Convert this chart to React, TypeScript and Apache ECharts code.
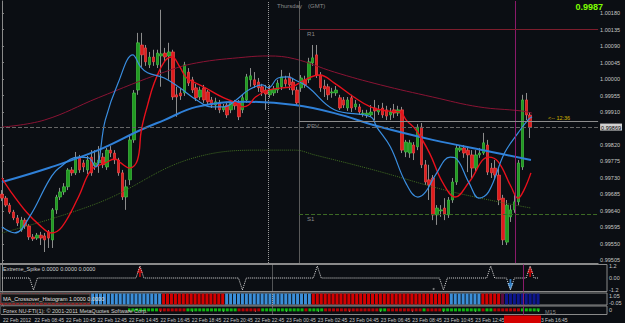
import React, { useEffect, useRef } from "react";
import * as echarts from "echarts";

const BG = "#0b0e13";
const N_CAT = 154;

// [open, close, low, high]
const ohlc: number[][] = [
  [0.99686, 0.99675, 0.99667, 0.99697], [0.99675, 0.99656, 0.99651, 0.99681], [0.99656, 0.99637, 0.99632, 0.99662],
  [0.99637, 0.99621, 0.99615, 0.99643], [0.99621, 0.99607, 0.99599, 0.99629], [0.99588, 0.99615, 0.99583, 0.99624],
  [0.99615, 0.99599, 0.99591, 0.99621], [0.99599, 0.99569, 0.99561, 0.99604], [0.99569, 0.99564, 0.99558, 0.99577],
  [0.99566, 0.99574, 0.99561, 0.9958], [0.99574, 0.99566, 0.99547, 0.99583], [0.99572, 0.99561, 0.99528, 0.9958],
  [0.99583, 0.99566, 0.99539, 0.99588], [0.99561, 0.99643, 0.99539, 0.99648], [0.99643, 0.99678, 0.99632, 0.99684],
  [0.99678, 0.99692, 0.9967, 0.99703], [0.99692, 0.99706, 0.99684, 0.99716], [0.99706, 0.99752, 0.99697, 0.99757],
  [0.99752, 0.99744, 0.99736, 0.9976], [0.99744, 0.99785, 0.99738, 0.99801], [0.99785, 0.99752, 0.99744, 0.99793],
  [0.99771, 0.9976, 0.99746, 0.99779], [0.99752, 0.99779, 0.99741, 0.9979], [0.99787, 0.99744, 0.99736, 0.99806],
  [0.99763, 0.99771, 0.99752, 0.99806], [0.99771, 0.99779, 0.99744, 0.99817], [0.99787, 0.99766, 0.99757, 0.99798],
  [0.9976, 0.99806, 0.99752, 0.99812], [0.99806, 0.99798, 0.99787, 0.99817], [0.99798, 0.99779, 0.99768, 0.99806],
  [0.99779, 0.99744, 0.99736, 0.99785], [0.99744, 0.99678, 0.9967, 0.99752], [0.99678, 0.99706, 0.99643, 0.99725],
  [0.99725, 0.99834, 0.99711, 0.99847], [0.99834, 0.99962, 0.99826, 0.9997], [0.9997, 1.00099, 0.99957, 1.00126],
  [1.00093, 1.00066, 1.00033, 1.00126], [1.00085, 1.00047, 1.00036, 1.00093], [1.00039, 1.0006, 1.0003, 1.00074],
  [1.0006, 1.00047, 1.00036, 1.0008], [1.00039, 1.00071, 1.0003, 1.0008], [1.00063, 1.00069, 0.99979, 1.00189],
  [1.00071, 1.0006, 1.00047, 1.00085], [1.00063, 1.00074, 0.99998, 1.00099], [1.00074, 0.99951, 0.99943, 1.0008],
  [0.99957, 0.99951, 0.99897, 0.99979], [0.99962, 0.99954, 0.99943, 0.99976], [0.99962, 1.00039, 0.99954, 1.00047],
  [1.00019, 0.99989, 0.99981, 1.0003], [0.99998, 0.9997, 0.99962, 1.00006], [0.99976, 0.99949, 0.9994, 0.99987],
  [0.99951, 0.9997, 0.99943, 0.99979], [0.99976, 0.99943, 0.99935, 0.99984], [0.99965, 0.99938, 0.99929, 0.9997],
  [0.99943, 0.99929, 0.99921, 0.99951], [0.99929, 0.99938, 0.99916, 0.99949], [0.99935, 0.99916, 0.99907, 0.99943],
  [0.99916, 0.99924, 0.9991, 0.99932], [0.99929, 0.99902, 0.99894, 0.99938], [0.99916, 0.99935, 0.99907, 0.99943],
  [0.99935, 0.99927, 0.99916, 0.99943], [0.99935, 0.99897, 0.99888, 0.99943], [0.99916, 0.99949, 0.99907, 0.99957],
  [0.99943, 1.00006, 0.99935, 1.00014], [0.99998, 1.00009, 0.99979, 1.0003], [0.99998, 0.99984, 0.99976, 1.00019],
  [0.99992, 0.99976, 0.99965, 1.00003], [0.99979, 0.99965, 0.99954, 0.99987], [0.9997, 0.99959, 0.99916, 0.99984],
  [0.99957, 0.9997, 0.99949, 0.99984], [0.99962, 0.99973, 0.99954, 0.99981], [0.9997, 0.99989, 0.99962, 0.99998],
  [0.99979, 1.00006, 0.9997, 1.00025], [0.99998, 0.99987, 0.99979, 1.00009], [1.00006, 0.99984, 0.9997, 1.00017],
  [0.99992, 0.9997, 0.99957, 1.00003], [0.9997, 0.99935, 0.99927, 0.99979], [0.99976, 1.00003, 0.99965, 1.00011],
  [0.99998, 0.99984, 0.99976, 1.00009], [0.99998, 1.00047, 0.99989, 1.00058], [1.00044, 1.00058, 1.00036, 1.00093],
  [1.00066, 1.00011, 1.00003, 1.00093], [1.00011, 0.99976, 0.99965, 1.00019], [0.99981, 0.99973, 0.99951, 0.99998],
  [0.99979, 0.99957, 0.99943, 0.99987], [0.99962, 0.99965, 0.99949, 0.99976], [0.99962, 0.9997, 0.99954, 0.99981],
  [0.99949, 0.99921, 0.99916, 0.99957], [0.99943, 0.99929, 0.99921, 0.99951], [0.99921, 0.99943, 0.99913, 0.99951],
  [0.99949, 0.99921, 0.9991, 0.99957], [0.99924, 0.99932, 0.99916, 0.99943], [0.99924, 0.9991, 0.99902, 0.99932],
  [0.99905, 0.99907, 0.99897, 0.99916], [0.99902, 0.99907, 0.99894, 0.99916], [0.99902, 0.9991, 0.99897, 0.99929],
  [0.99921, 0.99913, 0.99888, 0.99943], [0.9991, 0.99916, 0.99902, 0.99929], [0.99921, 0.99902, 0.99894, 0.99935],
  [0.99916, 0.99899, 0.99888, 0.99927], [0.99902, 0.9991, 0.99888, 0.99921], [0.99916, 0.99907, 0.99894, 0.99932],
  [0.99907, 0.99916, 0.99899, 0.99927], [0.99916, 0.99806, 0.99798, 0.99924], [0.99801, 0.99828, 0.99787, 0.99834],
  [0.99798, 0.99826, 0.99785, 0.99834], [0.9982, 0.99798, 0.99779, 0.99828], [0.99815, 0.99869, 0.99806, 0.99877],
  [0.99869, 0.99766, 0.99757, 0.9988], [0.99766, 0.99719, 0.99711, 0.99779], [0.99725, 0.99711, 0.9967, 0.99766],
  [0.9973, 0.99629, 0.99615, 0.99738], [0.99629, 0.99648, 0.99602, 0.99656], [0.9964, 0.99643, 0.99624, 0.99656],
  [0.99648, 0.99632, 0.99615, 0.99675], [0.99629, 0.9967, 0.99621, 0.99678], [0.9967, 0.99719, 0.99662, 0.9973],
  [0.99719, 0.99812, 0.99711, 0.9982], [0.99806, 0.99812, 0.99801, 0.9982], [0.99812, 0.99798, 0.99785, 0.9982],
  [0.99806, 0.99793, 0.99746, 0.99815], [0.99793, 0.99757, 0.9973, 0.99806], [0.99757, 0.99793, 0.99746, 0.99806],
  [0.99793, 0.99798, 0.99785, 0.99812], [0.99798, 0.99826, 0.99793, 0.99853], [0.9982, 0.99746, 0.99738, 0.99834],
  [0.99757, 0.99744, 0.9973, 0.99771], [0.99757, 0.99738, 0.99725, 0.99779], [0.99738, 0.9967, 0.99656, 0.99757],
  [0.99675, 0.99561, 0.99547, 0.99684], [0.99555, 0.99656, 0.99547, 0.9967], [0.99624, 0.99643, 0.9961, 0.99656],
  [0.99643, 0.99665, 0.99635, 0.99684], [0.99665, 0.99771, 0.99656, 0.99779], [0.9976, 0.99943, 0.99752, 0.99957],
  [0.99943, 0.99902, 0.99888, 0.99962], [0.99902, 0.99869, 0.99839, 0.9991],
];

// moving averages read at sampled bars: [bar, price]
const maMaroon = [[0, 0.99869], [10.9, 0.99888], [24.8, 0.99949], [41.8, 1.00019], [50.1, 1.00044], [62.8, 1.0006], [68.6, 1.00063], [75.4, 1.00055], [85.6, 1.00019], [97.5, 0.99984], [110.9, 0.99951], [122.8, 0.99924], [133.7, 0.99913], [136.5, 0.99907]];
const maSlowBlue = [[0, 0.99719], [12.2, 0.99758], [24.8, 0.99806], [35.7, 0.99861], [41.8, 0.99888], [50.1, 0.99924], [62.8, 0.99938], [75.4, 0.99929], [85.6, 0.99907], [97.5, 0.99869], [110.9, 0.99834], [126.1, 0.99801], [136.2, 0.99779]];
const maFastBlue = [[0, 0.99596], [3.3, 0.9958], [7.1, 0.99624], [12.2, 0.99725], [14.7, 0.99757], [19.7, 0.99787], [22.3, 0.99785], [24.1, 0.9976], [26.6, 0.99888], [29.9, 0.99989], [33.7, 1.00066], [35.7, 1.00033], [37.5, 1.00017], [41.8, 1.00003], [45.8, 0.99976], [50.1, 0.99943], [53.9, 0.99924], [57.0, 0.99924], [60.3, 0.99943], [63.5, 0.9997], [67.1, 0.99984], [68.6, 0.99976], [71.1, 1.00003], [73.7, 1.00006], [75.4, 0.99998], [78.7, 0.99979], [85.6, 0.99916], [94.9, 0.99897], [96.5, 0.99869], [100, 0.99815], [104, 0.99716], [107.1, 0.99678], [109.1, 0.99692], [111.6, 0.99738], [115.4, 0.99787], [116.7, 0.99785], [120.3, 0.99716], [122.8, 0.99675], [125.3, 0.99692], [129.4, 0.99798], [132.9, 0.99853], [135.4, 0.99888], [136.5, 0.99897]];
const maRed = [[0, 0.9973], [2.0, 0.99697], [6.3, 0.99637], [9.6, 0.99602], [12.7, 0.9958], [15.4, 0.99596], [19.7, 0.99678], [23.0, 0.99752], [26.6, 0.99771], [29.1, 0.99782], [30.6, 0.99771], [32.9, 0.99757], [34.9, 0.99779], [35.9, 0.99861], [37.5, 0.99929], [39.2, 0.99989], [41.8, 1.00047], [43.8, 1.0006], [45.8, 1.00033], [47.6, 1.00003], [51.9, 0.99979], [57.0, 0.99949], [60.3, 0.99935], [62.0, 0.99924], [63.5, 0.99929], [65.3, 0.99951], [68.6, 0.9997], [72.2, 0.99976], [74.7, 0.99979], [78.0, 0.99998], [81.8, 1.00011], [85.6, 0.99989], [90.6, 0.99951], [94.9, 0.99924], [99.0, 0.99913], [102.5, 0.9991], [104.1, 0.99888], [106.6, 0.99861], [110.1, 0.99798], [113.4, 0.99719], [116.7, 0.99678], [120.3, 0.99719], [125.3, 0.99787], [127.8, 0.99774], [131.1, 0.99706], [132.9, 0.99675], [134.4, 0.99697], [136.2, 0.99744]];
const maGreen = [[0, 0.9958], [24.8, 0.99662], [50.1, 0.99787], [67.8, 0.99806], [75.4, 0.99806], [80.5, 0.99793], [95.7, 0.99752], [116, 0.99692], [136.2, 0.99648]];

// pivot levels and bid
const pivotR1 = 1.00137;
const pivotPP = 0.99886;
const pivotS1 = 0.99632;
const bidPrice = 0.99869;
const priceTicks = [1.0018, 1.00135, 1.0009, 1.00045, 1.0, 0.99955, 0.9991, 0.9982, 0.99775, 0.9973, 0.99685, 0.9964, 0.99595, 0.9955, 0.99505];

// markers (bar positions)
const dayBar = 68.5;
const pivotStartBar = 76.5;
const vlineBar = 132.2;

// Extreme_Spike events
const spikeBars = [8, 35, 61, 80, 112, 124, 129, 134];
const spikeVals = [-1.2, 1.2, -1.2, 1.2, -1.2, 1.2, -1.2, 1.2];
const upArrowBars = [35, 134];
const downArrowBars = [129];

// MA_Crossover histogram segments [from, to, state]
const histSegments: [number, number, string][] = [
  [0, 22, "r"], [23, 40, "b"], [41, 56, "r"], [57, 78, "b"], [79, 113, "r"], [114, 121, "b"], [122, 126, "r"], [127, 127, "m"], [128, 136, "n"],
];
// Forex dots segments
const fxSegments: [number, number, string][] = [
  [0, 31, "r"], [32, 39, "g"], [40, 46, "r"], [47, 59, "g"], [60, 65, "r"], [66, 76, "g"], [77, 77, "r"], [78, 81, "g"], [82, 95, "r"], [96, 97, "g"], [98, 106, "r"], [107, 107, "g"], [108, 111, "r"], [112, 121, "g"], [122, 122, "r"], [123, 124, "g"], [125, 131, "r"], [132, 136, "g"],
];

// time labels (the 14:45 label is hidden under the current-time box in the reference)
const tickBars = [0, 8, 16, 24, 32, 40, 48, 56, 64, 72, 80, 88, 96, 104, 112, 120, 136];
const tickLabels = ["22 Feb 2012", "22 Feb 08:45", "22 Feb 10:45", "22 Feb 12:45", "22 Feb 14:45", "22 Feb 16:45", "22 Feb 18:45", "22 Feb 20:45", "22 Feb 22:45", "23 Feb 00:45", "23 Feb 02:45", "23 Feb 04:45", "23 Feb 06:45", "23 Feb 08:45", "23 Feb 10:45", "23 Feb 12:45", "23 Feb 16:45"];

const FONT = "Liberation Sans";
const AXIS = "#8a8a8a";
const LBL = "#c8c8c8";

function buildOption() {
  const cats = Array.from({ length: N_CAT }, (_, i) => String(i));
  const bodies = ohlc.map(([o, c]) => [o, c, Math.min(o, c), Math.max(o, c)]);
  const spikeData = ohlc.map((_, i) => {
    const k = spikeBars.indexOf(i);
    return [i, k >= 0 ? spikeVals[k] : 0];
  });
  const histColors: Record<string, string> = { r: "#d40000", b: "#3b8ed8", n: "#0d168e", m: "#5c0c40" };
  const histData: any[] = [];
  histSegments.forEach(([s, e, c]) => {
    for (let i = s; i <= e; i++) histData.push({ value: [i, 1], itemStyle: { color: histColors[c] } });
  });
  const fxColors: Record<string, string> = { r: "#e00000", g: "#10e010" };
  const fxData: any[] = [];
  fxSegments.forEach(([s, e, c]) => {
    for (let i = s; i <= e; i++) fxData.push({ value: [i, 0], itemStyle: { color: fxColors[c] } });
  });

  const grids = [
    { left: 0, top: 1, width: 607, height: 262, show: false },
    { left: 0, top: 264.5, width: 607, height: 27, show: true, borderColor: AXIS, borderWidth: 1 },
    { left: 0, top: 293, width: 607, height: 12, show: true, borderColor: AXIS, borderWidth: 1 },
    { left: 0, top: 306, width: 607, height: 8.5, show: true, borderColor: AXIS, borderWidth: 1 },
  ];
  const valX = (g: number, extra: any = {}) => ({ type: "value", gridIndex: g, min: -0.5, max: N_CAT - 0.5, show: false, splitLine: { show: false }, ...extra });
  const axisLbl = { color: LBL, fontSize: 5.5, fontFamily: FONT, margin: 2 };

  const vLine = (bar: number, color: string, type: string) => ({ xAxis: bar, lineStyle: { color, type, width: 1 } });
  const lowerMarks = {
    symbol: ["none", "none"], silent: true, label: { show: false },
    data: [vLine(dayBar, "#9a9a9a", "dotted"), vLine(vlineBar, "#8a1a6a", "solid")],
  };
  const hLine = (from: number, v: number, color: string, type: string, text: string | null) => [
    {
      coord: [from, v], lineStyle: { color, type, width: 1 },
      label: text ? { show: true, formatter: text, position: "insideStartBottom", color: "#8a8a8a", fontSize: 6, fontFamily: FONT, distance: [8, 2] } : { show: false },
    },
    { coord: [N_CAT - 0.5, v] },
  ];

  return {
    animation: false,
    backgroundColor: BG,
    grid: grids,
    xAxis: [
      { type: "category", gridIndex: 0, data: cats, boundaryGap: true, axisLine: { show: true, onZero: false, lineStyle: { color: AXIS } }, axisTick: { show: false }, axisLabel: { show: false }, splitLine: { show: false } },
      valX(0),
      valX(1),
      valX(2),
      valX(3, {
        show: true,
        axisLine: { show: false },
        axisTick: { show: true, customValues: tickBars, length: 2, inside: false, lineStyle: { color: AXIS } },
        axisLabel: { ...axisLbl, fontSize: 5, customValues: tickBars, align: "left", margin: 3, formatter: (v: number) => tickLabels[tickBars.indexOf(Math.round(v))] ?? "" },
      }),
    ],
    yAxis: [
      {
        type: "value", gridIndex: 0, position: "right", min: 0.99498, max: 1.00213,
        axisLine: { show: true, lineStyle: { color: AXIS } },
        axisTick: { show: true, customValues: [...priceTicks, bidPrice], length: 2, lineStyle: { color: AXIS } },
        axisLabel: {
          ...axisLbl, customValues: [...priceTicks, bidPrice],
          formatter: (v: number) => (Math.abs(v - bidPrice) < 1e-8 ? `{hl|${v.toFixed(5)}}` : v.toFixed(5)),
          rich: { hl: { backgroundColor: "#d0d0d0", color: "#000", fontSize: 5.5, fontFamily: FONT, padding: [1, 1, 0, 1] } },
        },
        splitLine: { show: false },
      },
      {
        type: "value", gridIndex: 1, position: "right", min: -1.35, max: 1.35,
        axisLine: { show: true, lineStyle: { color: AXIS } }, axisTick: { show: false }, splitLine: { show: false },
        axisLabel: { ...axisLbl, customValues: [1.2, 0, -1.2], formatter: (v: number) => (v === 0 ? "0.00" : v.toFixed(1)) },
      },
      {
        type: "value", gridIndex: 2, position: "right", min: -0.05, max: 1.05,
        axisLine: { show: true, lineStyle: { color: AXIS } }, axisTick: { show: false }, splitLine: { show: false },
        axisLabel: {
          ...axisLbl, customValues: [1.05, -0.05],
          formatter: (v: number) => (v > 0.5 ? `{t|${v.toFixed(2)}}` : `{b|${v.toFixed(2)}}`),
          rich: { t: { padding: [6, 0, 0, 0], fontSize: 5.5, color: LBL }, b: { padding: [0, 0, 5, 0], fontSize: 5.5, color: LBL } },
        },
      },
      {
        type: "value", gridIndex: 3, position: "right", min: -1.2, max: 1,
        axisLine: { show: true, lineStyle: { color: AXIS } }, axisTick: { show: false }, splitLine: { show: false },
        axisLabel: { ...axisLbl, customValues: [0], formatter: () => "0" },
      },
    ],
    series: [
      {
        type: "candlestick", xAxisIndex: 0, yAxisIndex: 0, data: ohlc, barWidth: 1,
        itemStyle: { color: "#8c8c8c", color0: "#8c8c8c", borderColor: "#8c8c8c", borderColor0: "#8c8c8c", borderWidth: 1 },
      },
      {
        type: "candlestick", xAxisIndex: 0, yAxisIndex: 0, data: bodies, barWidth: 3,
        itemStyle: { color: "#1f9a1f", color0: "#e01b1b", borderColor: "#4ccc4c", borderColor0: "#ff5050", borderWidth: 0.6 },
      },
      {
        type: "line", xAxisIndex: 1, yAxisIndex: 0, data: maMaroon, smooth: 0.4, showSymbol: false,
        lineStyle: { color: "#8a1434", width: 1 },
        markLine: {
          symbol: ["none", "none"], silent: true, label: { show: false },
          data: [
            vLine(dayBar, "#9a9a9a", "dotted"),
            vLine(pivotStartBar, "#5a5a5a", "solid"),
            vLine(vlineBar, "#8a1a6a", "solid"),
            hLine(-0.5, bidPrice, "#666666", "dashed", null),
            hLine(pivotStartBar, pivotR1, "#7d1d2d", "solid", "R1"),
            hLine(pivotStartBar, pivotPP, "#8c8c8c", "solid", "PPV"),
            hLine(pivotStartBar, pivotS1, "#3d6a25", "dashed", "S1"),
          ],
        },
      },
      { type: "line", xAxisIndex: 1, yAxisIndex: 0, data: maGreen, smooth: 0.4, showSymbol: false, lineStyle: { color: "#426e22", width: 1, type: "dotted" } },
      { type: "line", xAxisIndex: 1, yAxisIndex: 0, data: maSlowBlue, smooth: 0.4, showSymbol: false, lineStyle: { color: "#2f80d8", width: 2 } },
      { type: "line", xAxisIndex: 1, yAxisIndex: 0, data: maRed, smooth: 0.4, showSymbol: false, lineStyle: { color: "#e8101c", width: 1.4 } },
      { type: "line", xAxisIndex: 1, yAxisIndex: 0, data: maFastBlue, smooth: 0.4, showSymbol: false, lineStyle: { color: "#3a8ee0", width: 1.2 } },
      {
        type: "line", xAxisIndex: 2, yAxisIndex: 1, data: spikeData, showSymbol: false,
        lineStyle: { color: "#e0e0e0", width: 1, type: "dotted" }, markLine: lowerMarks,
      },
      {
        type: "scatter", xAxisIndex: 2, yAxisIndex: 1, data: upArrowBars.map((b) => [b, 0.65]),
        symbol: "path://M5,0 L10,9 L6.5,9 L6.5,14 L3.5,14 L3.5,9 L0,9 Z", symbolSize: [6, 11], itemStyle: { color: "#e00000" },
      },
      {
        type: "scatter", xAxisIndex: 2, yAxisIndex: 1, data: downArrowBars.map((b) => [b, -0.65]),
        symbol: "path://M3.5,0 L6.5,0 L6.5,5 L10,5 L5,14 L0,5 L3.5,5 Z", symbolSize: [6, 11], itemStyle: { color: "#3a9af0" },
      },
      {
        type: "scatter", xAxisIndex: 2, yAxisIndex: 1, data: [[109.5, -1.1]], symbol: "circle", symbolSize: 2, itemStyle: { color: "#9a9a9a" },
      },
      { type: "bar", xAxisIndex: 3, yAxisIndex: 2, data: histData, barWidth: 3, markLine: lowerMarks },
      { type: "scatter", xAxisIndex: 4, yAxisIndex: 3, data: fxData, symbol: "rect", symbolSize: [3, 3], markLine: lowerMarks },
    ],
    graphic: [
      { type: "text", x: 603, y: 7, z: 100, style: { text: "0.9987", fill: "#7fff00", font: `bold 9px ${FONT}`, align: "right", verticalAlign: "middle" } },
      { type: "text", x: 548, y: 118, z: 100, style: { text: "<-- 12:36", fill: "#d4b400", font: `5.5px ${FONT}`, align: "left", verticalAlign: "middle" } },
      { type: "text", x: 277, y: 6, z: 100, style: { text: "Thursday", fill: "#8a8a8a", font: `6px ${FONT}`, verticalAlign: "middle" } },
      { type: "text", x: 308, y: 6, z: 100, style: { text: "(GMT)", fill: "#8a8a8a", font: `6px ${FONT}`, verticalAlign: "middle" } },
      { type: "text", x: 3, y: 269, z: 100, style: { text: "Extreme_Spike 0.0000 0.0000 0.0000", fill: "#d0d0d0", font: `5.5px ${FONT}`, verticalAlign: "middle" } },
      { type: "rect", z: 99, shape: { x: 1, y: 294, width: 89, height: 9 }, style: { fill: "#121212", stroke: "#555" } },
      { type: "text", x: 3, y: 298.5, z: 100, style: { text: "MA_Crossover_Histogram 1.0000 0.0000", fill: "#e0e0e0", font: `5.5px ${FONT}`, verticalAlign: "middle" } },
      { type: "rect", z: 99, shape: { x: 1, y: 306.5, width: 127, height: 7.5 }, style: { fill: "#121212" } },
      { type: "text", x: 3, y: 310.5, z: 100, style: { text: "Forex NU-FTI(1): © 2001-2011 MetaQuotes Software Corp.", fill: "#d0d0d0", font: `5.5px ${FONT}`, verticalAlign: "middle" } },
      { type: "text", x: 545, y: 312, z: 100, style: { text: "M15", fill: "#8a8a8a", font: `5.5px ${FONT}`, verticalAlign: "middle" } },
      { type: "rect", z: 99, shape: { x: 504, y: 315.5, width: 37, height: 7.5 }, style: { fill: "#d40000" } },
    ],
  };
}

export default function App() {
  const ref = useRef<HTMLDivElement>(null);
  useEffect(() => {
    document.body.style.margin = "0";
    document.body.style.background = BG;
    const chart = echarts.init(ref.current!, null, { renderer: "svg" });
    chart.setOption(buildOption() as any);
    return () => chart.dispose();
  }, []);
  return <div ref={ref} style={{ width: 625, height: 323, background: BG }} />;
}
